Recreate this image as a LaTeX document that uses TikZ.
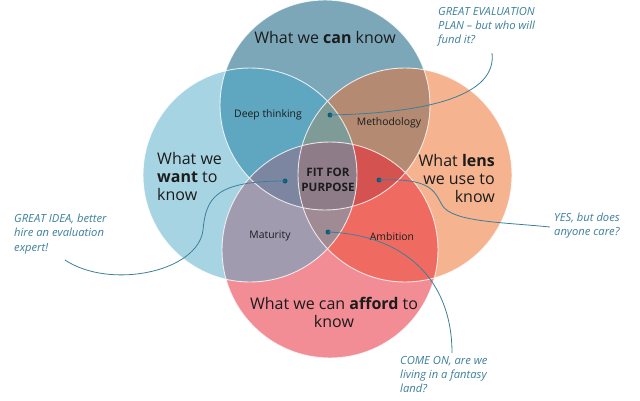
\documentclass[tikz,border=0pt]{standalone}
\usepackage{fontspec}
\setmainfont{Open Sans}
\definecolor{topc}{HTML}{7BA7B9}
\definecolor{leftc}{HTML}{A7D4E2}
\definecolor{rightc}{HTML}{F5B38F}
\definecolor{botc}{HTML}{F28C95}
\definecolor{tlc}{HTML}{5FA6C1}
\definecolor{trc}{HTML}{B48A72}
\definecolor{lbc}{HTML}{A19BB0}
\definecolor{rbc}{HTML}{EF6B62}
\definecolor{tlrc}{HTML}{7E9B97}
\definecolor{tlbc}{HTML}{7D86A0}
\definecolor{trbc}{HTML}{D4524F}
\definecolor{lrbc}{HTML}{A08A93}
\definecolor{allc}{HTML}{8E7C88}
\definecolor{notec}{HTML}{3C7F9B}
\definecolor{dotc}{HTML}{0E5D78}
\definecolor{inkc}{HTML}{1C1C1C}
\newcommand{\topdisc}{(325,105) circle[radius=105pt]}
\newcommand{\leftdisc}{(250,175) circle[radius=107pt]}
\newcommand{\rightdisc}{(405,175) circle[radius=107pt]}
\newcommand{\botdisc}{(330,250) circle[radius=108pt]}
\tikzset{
  big/.style={text=inkc,font=\fontsize{16}{18}\selectfont,inner sep=0pt},
  small/.style={text=inkc,font=\fontsize{10.4}{12}\selectfont,inner sep=0pt},
  note/.style={text=notec,font=\itshape\fontsize{11.2}{14.2}\selectfont,inner sep=0pt,align=left,anchor=north west},
  pin/.style={circle,fill=dotc,inner sep=0pt,minimum size=5pt},
  lead/.style={draw=notec,line width=0.8pt}
}
\begin{document}
\begin{tikzpicture}[x=1pt,y=-1pt]
 \useasboundingbox (0,0) rectangle (640,400);
 % single circles
 \fill[topc] \topdisc;
 \fill[leftc] \leftdisc;
 \fill[rightc] \rightdisc;
 \fill[botc] \botdisc;
 % overlaps of two
 \begin{scope}\clip \topdisc; \fill[tlc] \leftdisc; \fill[trc] \rightdisc; \end{scope}
 \begin{scope}\clip \botdisc; \fill[lbc] \leftdisc; \fill[rbc] \rightdisc; \end{scope}
 % overlaps of three
 \begin{scope}\clip \topdisc; \clip \leftdisc; \fill[tlrc] \rightdisc; \end{scope}
 \begin{scope}\clip \topdisc; \clip \leftdisc; \fill[tlbc] \botdisc; \end{scope}
 \begin{scope}\clip \topdisc; \clip \rightdisc; \fill[trbc] \botdisc; \end{scope}
 \begin{scope}\clip \botdisc; \clip \leftdisc; \fill[lrbc] \rightdisc; \end{scope}
 % all four
 \begin{scope}\clip \topdisc; \clip \leftdisc; \clip \rightdisc; \fill[allc] \botdisc; \end{scope}
 % outlines
 \draw[white,line width=0.9pt,draw opacity=0.8] \topdisc \rightdisc \botdisc \leftdisc;

 \node[big] (can) at (325,37) {What we \textbf{can} know};
 \node[big,align=left,anchor=west] (want) at (157,176) {What we\\\textbf{want} to\\know};
 \node[big,align=right,anchor=east] (lens) at (495,178) {What \textbf{lens}\\we use to\\know};
 \node[big,align=center] (afford) at (334,312) {What we can \textbf{afford} to\\know};

 \node[small] (deep) at (268,115) {Deep thinking};
 \node[small] (method) at (389,123) {Methodology};
 \node[small] (matur) at (270,236) {Maturity};
 \node[small] (ambit) at (392,237) {Ambition};
 \node[small,font=\bfseries\fontsize{11.6}{15}\selectfont,align=center] (fit) at (328,180) {FIT FOR\\PURPOSE};

 \node[note] (plan) at (438,7) {GREAT EVALUATION\\PLAN -- but who will\\fund it?};
 \node[note] (idea) at (14,214) {GREAT IDEA, better\\hire an evaluation\\expert!};
 \node[note] (care) at (554,213) {YES, but does\\anyone care?};
 \node[note] (fantasy) at (400,356) {COME ON, are we\\living in a fantasy\\land?};

 \coordinate (planend) at (492,53);
 \coordinate (ideaend) at (65,260);
 \coordinate (careend) at (550,227);
 \coordinate (fantend) at (452,353);

 \node[pin] (p1) at (330,115) {};
 \node[pin] (p2) at (285,181) {};
 \node[pin] (p3) at (379,180) {};
 \node[pin] (p4) at (328,232) {};

 \draw[lead] (p1.center) .. controls (430,113) and (497,95) .. (planend);
 \draw[lead] (p2.center) .. controls (215,181) and (206,198) .. (203,230)
   .. controls (198,272) and (110,290) .. (ideaend);
 \draw[lead] (p3.center) .. controls (430,178) and (434,190) .. (442,205)
   .. controls (452,222) and (500,222) .. (careend);
 \draw[lead] (p4.center) .. controls (405,235) and (452,280) .. (fantend);
\end{tikzpicture}
\end{document}
